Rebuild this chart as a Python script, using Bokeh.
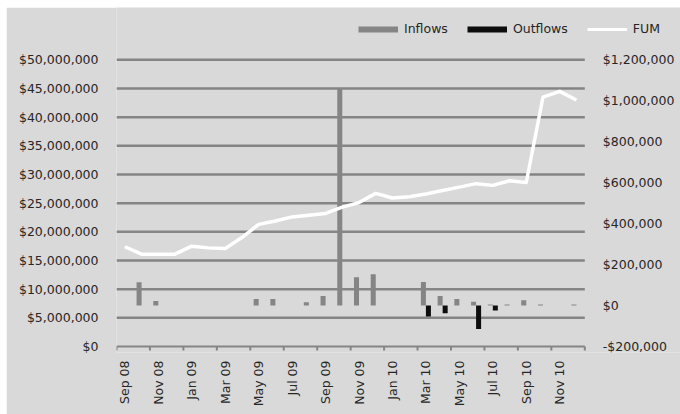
import math

from bokeh.core.properties import value
from bokeh.embed import file_html
from bokeh.models import (FixedTicker, Legend, LegendItem, LinearAxis,
                          Range1d)
from bokeh.plotting import figure
from bokeh.resources import INLINE

# Monthly series, Sep 2008 - Dec 2010
months = ["Sep 08", "Oct 08", "Nov 08", "Dec 08", "Jan 09", "Feb 09", "Mar 09",
          "Apr 09", "May 09", "Jun 09", "Jul 09", "Aug 09", "Sep 09", "Oct 09",
          "Nov 09", "Dec 09", "Jan 10", "Feb 10", "Mar 10", "Apr 10", "May 10",
          "Jun 10", "Jul 10", "Aug 10", "Sep 10", "Oct 10", "Nov 10", "Dec 10"]

# Funds under management (left axis, $)
fum = [17_400_000, 16_100_000, 16_100_000, 16_100_000, 17_500_000, 17_200_000,
       17_100_000, 19_000_000, 21_300_000, 21_900_000, 22_600_000, 22_900_000,
       23_200_000, 24_300_000, 25_100_000, 26_700_000, 25_900_000, 26_100_000,
       26_600_000, 27_200_000, 27_800_000, 28_400_000, 28_100_000, 28_900_000,
       28_600_000, 43_500_000, 44_500_000, 43_000_000]

# Monthly flows (right axis, $)
inflows = [0, 114_000, 22_000, 0, 0, 0, 0, 0, 32_000, 32_000, 0, 16_000,
           47_000, 1_060_000, 138_000, 153_000, 0, 0, 115_000, 47_000, 32_000,
           18_000, 5_000, 5_000, 26_000, 5_000, 0, 5_000]
outflows = [0, 0, 0, 0, 0, 0, 0, 0, 0, 0, 0, 0, 0, 0, 0, 0, 0, 0,
            -54_000, -38_000, 0, -115_000, -24_000, 0, 0, 0, 0, 0]

left_ticks = [0, 5_000_000, 10_000_000, 15_000_000, 20_000_000, 25_000_000,
              30_000_000, 35_000_000, 40_000_000, 45_000_000, 50_000_000]
right_ticks = [-200_000, 0, 200_000, 400_000, 600_000, 800_000, 1_000_000,
               1_200_000]

series_names = ["Inflows", "Outflows", "FUM"]

FONT = "DejaVu Sans"
FSIZE = "12.5px"
TEXT = "#262626"
BG = "#d9d9d9"
GRID = "#858585"
INFLOW = "#858585"
OUTFLOW = "#0d0d0d"
NAN = float("nan")


def money(v):
    s = f"${abs(v):,.0f}"
    return "-" + s if v < 0 else s


n = len(months)
centers = [i + 0.5 for i in range(n)]
boundaries = list(range(0, n + 1, 2))
bar_w = 0.3

# Layout: the data frame covers everything right of the left axis, from the
# top edge to a little below the $0 baseline, so the legend row and the
# right-hand value labels sit inside it. The month scale spans PLOT_W pixels
# and the value scales PLOT_H pixels.
W, H = 674, 407
BORDER_L, BORDER_B = 110, 62
EXTRA_B = 6
TICK_PX = 4
FRAME_W, FRAME_H = W - BORDER_L, H - BORDER_B
PLOT_W, PLOT_H = 468.3, 286.7
x_end = n * FRAME_W / PLOT_W
left_lo, left_hi = left_ticks[0], left_ticks[-1]
right_lo, right_hi = right_ticks[0], right_ticks[-1]
u_left = (left_hi - left_lo) / PLOT_H
u_right = (right_hi - right_lo) / PLOT_H
px = n / PLOT_W  # data units per pixel along x

p = figure(width=W, height=H, margin=(7, 0, 0, 6),
           output_backend="svg", toolbar_location=None,
           x_range=Range1d(0, x_end),
           y_range=Range1d(left_lo - EXTRA_B * u_left,
                           left_lo + (FRAME_H - EXTRA_B) * u_left),
           min_border_left=BORDER_L, min_border_right=0,
           min_border_top=0, min_border_bottom=BORDER_B,
           background_fill_color=BG, border_fill_color=BG,
           outline_line_color=None, x_axis_type=None, y_axis_type=None)
p.extra_y_ranges = {"flows": Range1d(right_lo - EXTRA_B * u_right,
                                     right_lo + (FRAME_H - EXTRA_B) * u_right)}
p.xgrid.visible = False
p.ygrid.visible = False

# Left axis (FUM)
ya = LinearAxis(ticker=FixedTicker(ticks=left_ticks),
                major_label_overrides={t: money(t) for t in left_ticks})
ya.axis_line_color = None
ya.major_tick_line_color = None
ya.minor_tick_line_color = None
ya.major_tick_out = 0
ya.major_label_standoff = 18
p.add_layout(ya, "left")

# Month labels, every second month
xa = LinearAxis(ticker=FixedTicker(ticks=centers[::2]),
                major_label_overrides={c: m for c, m in zip(centers, months)})
xa.axis_line_color = None
xa.major_tick_line_color = None
xa.minor_tick_line_color = None
xa.major_tick_out = 0
xa.major_tick_in = 0
xa.major_label_orientation = math.pi / 2
xa.major_label_standoff = 14 - EXTRA_B
p.add_layout(xa, "below")

for ax in (ya, xa):
    ax.major_label_text_font = FONT
    ax.major_label_text_font_size = FSIZE
    ax.major_label_text_color = TEXT

# Horizontal gridlines at the left-axis ticks, across the month span only
grid_levels = left_ticks[1:]
p.segment(x0=[0] * len(grid_levels), x1=[n] * len(grid_levels),
          y0=grid_levels, y1=grid_levels, line_color=GRID, line_width=2.5)

# Baseline at $0 with tick marks on every second month boundary
p.segment(x0=[0], x1=[n], y0=[left_lo], y1=[left_lo],
          line_color=GRID, line_width=2)
p.segment(x0=boundaries, x1=boundaries, y0=[left_lo] * len(boundaries),
          y1=[left_lo - TICK_PX * u_left] * len(boundaries),
          line_color=GRID, line_width=2)

# Right-hand value labels for the flows scale
p.text(x=[n + 18 * px] * len(right_ticks), y=right_ticks,
       text=[money(t) for t in right_ticks], y_range_name="flows",
       text_align="left", text_baseline="middle", text_font=value(FONT),
       text_font_size=FSIZE, text_color=TEXT)

# Flow bars, clustered around each month
p.vbar(x=[c - bar_w / 2 for c in centers], top=inflows, bottom=0, width=bar_w,
       y_range_name="flows", fill_color=INFLOW, line_color=None)
p.vbar(x=[c + bar_w / 2 for c in centers], top=outflows, bottom=0, width=bar_w,
       y_range_name="flows", fill_color=OUTFLOW, line_color=None)

# FUM line
p.line(centers, fum, line_color="white", line_width=3.5, line_join="round")

# Legend swatches
sw_in = p.line(x=[NAN], y=[NAN], line_color=INFLOW, line_width=6)
sw_out = p.line(x=[NAN], y=[NAN], line_color=OUTFLOW, line_width=6)
sw_fum = p.line(x=[NAN], y=[NAN], line_color="white", line_width=3)

legend = Legend(items=[LegendItem(label=name, renderers=[r]) for name, r in
                       zip(series_names, [sw_in, sw_out, sw_fum])],
                orientation="horizontal", location=(242, FRAME_H - 29.5),
                glyph_width=40, glyph_height=16, label_height=16,
                label_standoff=6, spacing=19, padding=0, margin=0,
                background_fill_alpha=0, border_line_color=None,
                label_text_font=FONT, label_text_font_size=FSIZE,
                label_text_color=TEXT)
p.add_layout(legend, "center")

open("out.html", "w").write(file_html(p, INLINE))
